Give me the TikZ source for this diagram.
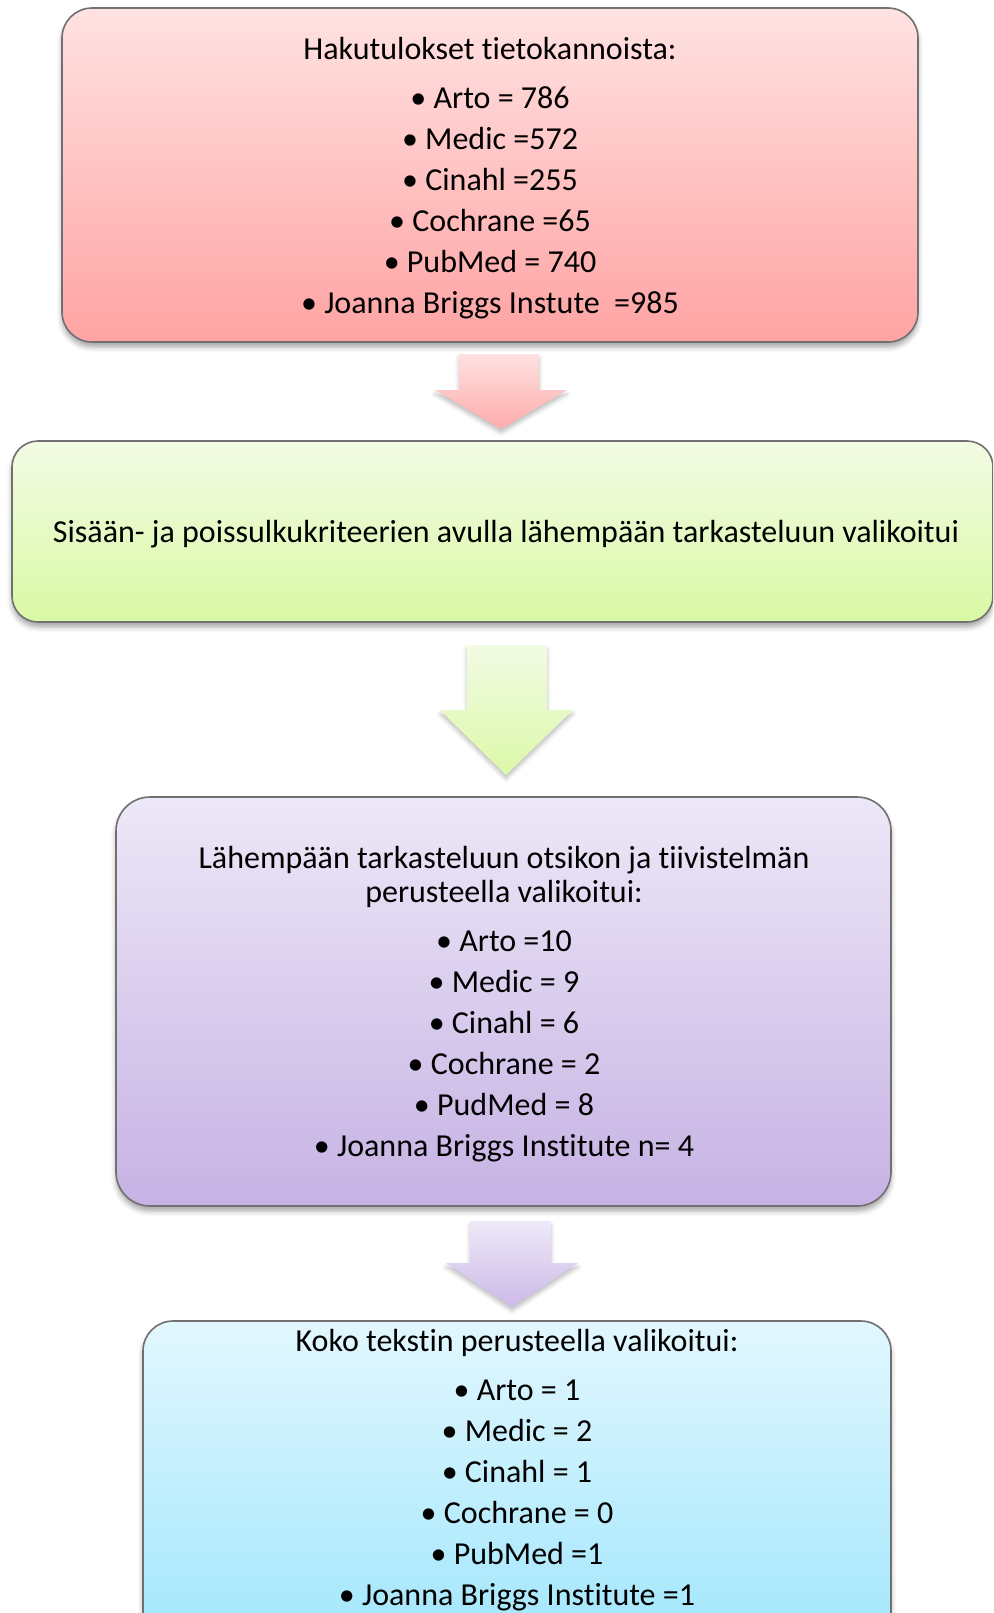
\documentclass[tikz,border=0pt]{standalone}
\usepackage{fontspec}
\setmainfont{Carlito}[Ligatures={NoCommon}]
\usetikzlibrary{shadows.blur}
\definecolor{boxline}{RGB}{112,112,112}
\definecolor{redtop}{RGB}{255,226,226}
\definecolor{redbot}{RGB}{255,163,163}
\definecolor{redatop}{RGB}{255,224,224}
\definecolor{redabot}{RGB}{255,172,172}
\definecolor{grntop}{RGB}{243,251,229}
\definecolor{grnbot}{RGB}{217,249,164}
\definecolor{grnatop}{RGB}{242,251,228}
\definecolor{grnabot}{RGB}{219,248,168}
\definecolor{purtop}{RGB}{237,232,247}
\definecolor{purbot}{RGB}{198,178,228}
\definecolor{puratop}{RGB}{238,233,248}
\definecolor{purabot}{RGB}{204,186,232}
\definecolor{blutop}{RGB}{226,247,254}
\definecolor{blubot}{RGB}{160,230,252}
\tikzset{
  boxbase/.style={draw=boxline, line width=0.8pt, rounded corners=15pt, inner sep=0pt,
    blur shadow={shadow xshift=0pt, shadow yshift=-2.5pt, shadow blur radius=2.5pt, shadow opacity=35}},
  redbox/.style={boxbase, top color=redtop, bottom color=redbot, minimum width=428pt, minimum height=167pt},
  grnbox/.style={boxbase, rounded corners=13pt, top color=grntop, bottom color=grnbot, minimum width=490.5pt, minimum height=90.5pt},
  purbox/.style={boxbase, rounded corners=17pt, top color=purtop, bottom color=purbot, minimum width=387.5pt, minimum height=204.5pt},
  blubox/.style={boxbase, top color=blutop, bottom color=blubot, minimum width=374pt, minimum height=166pt},
  blockarrow/.style={draw=none,
    blur shadow={shadow xshift=0pt, shadow yshift=-2pt, shadow blur radius=2pt, shadow opacity=25}},
  txt/.style={anchor=base, inner sep=0pt, font=\fontsize{16pt}{19pt}\selectfont}
}
\begin{document}
\begin{tikzpicture}[x=0.5pt,y=-0.5pt]
\useasboundingbox (0,0) rectangle (993,1613);
\clip (0,0) rectangle (993,1613);
% boxes
\node[redbox] (red) at (490,175) {};
\node[grnbox] (grn) at (502.5,531.5) {};
\node[purbox] (pur) at (503.5,1001.5) {};
\node[blubox] (blu) at (517,1487) {};
% block arrows
\path[blockarrow, top color=redatop, bottom color=redabot]
  (459,354) -- (539,354) -- (539,390) -- (567,390) -- (501,429) -- (435,390) -- (459,390) -- cycle;
\path[blockarrow, top color=grnatop, bottom color=grnabot]
  (467,645) -- (547,645) -- (547,710) -- (573,710) -- (506,775) -- (440,710) -- (467,710) -- cycle;
\path[blockarrow, top color=puratop, bottom color=purabot]
  (470,1221) -- (551,1221) -- (551,1263) -- (578,1263) -- (512,1307) -- (446,1263) -- (470,1263) -- cycle;
% red texts
\node[txt] (r0) at (490,59.3) {Hakutulokset tietokannoista:};
\node[txt] (r1) at (490,108.3) {\textbullet{} Arto = 786};
\node[txt] (r2) at (490,149.3) {\textbullet{} Medic =572};
\node[txt] (r3) at (490,190.3) {\textbullet{} Cinahl =255};
\node[txt] (r4) at (490,231.3) {\textbullet{} Cochrane =65};
\node[txt] (r5) at (490,272.3) {\textbullet{} PubMed = 740};
\node[txt] (r6) at (490,313.3) {\textbullet{} Joanna Briggs Instute~~=985};
% green text
\node[txt] (g0) at (506,542) {Sisään- ja poissulkukriteerien avulla lähempään tarkasteluun valikoitui};
% purple texts
\node[txt] (p0) at (504,868.3) {Lähempään tarkasteluun otsikon ja tiivistelmän};
\node[txt] (p1) at (504,902.7) {perusteella valikoitui:};
\node[txt] (p2) at (504,951.7) {\textbullet{} Arto =10};
\node[txt] (p3) at (504,992.7) {\textbullet{} Medic = 9};
\node[txt] (p4) at (504,1033.7) {\textbullet{} Cinahl = 6};
\node[txt] (p5) at (504,1074.7) {\textbullet{} Cochrane = 2};
\node[txt] (p6) at (504,1115.7) {\textbullet{} PudMed = 8};
\node[txt] (p7) at (504,1156.7) {\textbullet{} Joanna Briggs Institute n= 4};
% blue texts
\node[txt] (b0) at (517,1351.7) {Koko tekstin perusteella valikoitui:};
\node[txt] (b1) at (517,1400.3) {\textbullet{} Arto = 1};
\node[txt] (b2) at (517,1441.3) {\textbullet{} Medic = 2};
\node[txt] (b3) at (517,1482.3) {\textbullet{} Cinahl = 1};
\node[txt] (b4) at (517,1523.3) {\textbullet{} Cochrane = 0};
\node[txt] (b5) at (517,1564.3) {\textbullet{} PubMed =1};
\node[txt] (b6) at (517,1605.3) {\textbullet{} Joanna Briggs Institute =1};
\end{tikzpicture}
\end{document}
